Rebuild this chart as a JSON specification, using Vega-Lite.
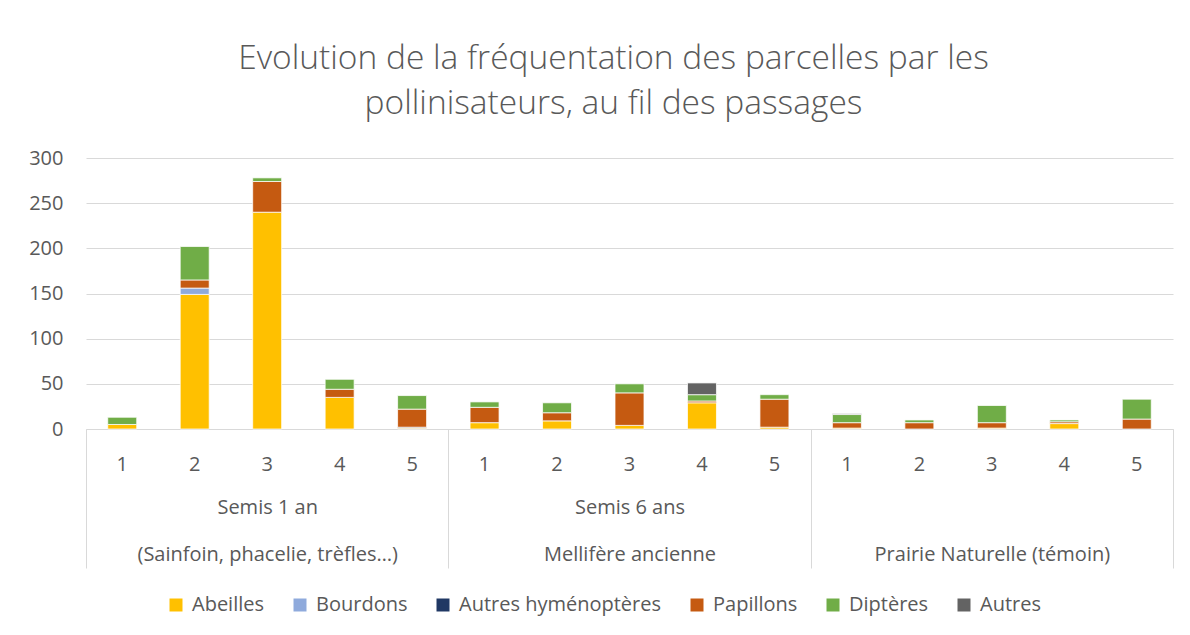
{
  "$schema": "https://vega.github.io/schema/vega-lite/v6.json",
  "width": 1087,
  "height": 271,
  "autosize": {"type": "none"},
  "padding": {"left": 86, "top": 158, "right": 17, "bottom": 206},
  "background": "white",
  "config": {"view": {"stroke": null}, "font": "Open Sans"},
  "title": {
    "text": ["Evolution de la fréquentation des parcelles par les", "pollinisateurs, au fil des passages"],
    "fontSize": 33.5,
    "fontWeight": 300,
    "color": "#595959",
    "anchor": "middle",
    "frame": "group",
    "offset": 27,
    "dx": -16,
    "lineHeight": 45
  },
  "resolve": {"scale": {"x": "independent"}, "axis": {"x": "independent"}},
  "layer": [
    {
      "data": {
        "values": [
          {"k": "A1", "s": "Abeilles", "v": 5},
          {"k": "A1", "s": "Diptères", "v": 8},
          {"k": "A2", "s": "Abeilles", "v": 149},
          {"k": "A2", "s": "Bourdons", "v": 7},
          {"k": "A2", "s": "Papillons", "v": 9},
          {"k": "A2", "s": "Diptères", "v": 37},
          {"k": "A3", "s": "Abeilles", "v": 240},
          {"k": "A3", "s": "Papillons", "v": 34},
          {"k": "A3", "s": "Diptères", "v": 4},
          {"k": "A4", "s": "Abeilles", "v": 35},
          {"k": "A4", "s": "Papillons", "v": 9},
          {"k": "A4", "s": "Diptères", "v": 11},
          {"k": "A5", "s": "Abeilles", "v": 1},
          {"k": "A5", "s": "Autres hyménoptères", "v": 1},
          {"k": "A5", "s": "Papillons", "v": 20},
          {"k": "A5", "s": "Diptères", "v": 15},
          {"k": "B1", "s": "Abeilles", "v": 7},
          {"k": "B1", "s": "Papillons", "v": 17},
          {"k": "B1", "s": "Diptères", "v": 6},
          {"k": "B2", "s": "Abeilles", "v": 9},
          {"k": "B2", "s": "Papillons", "v": 9},
          {"k": "B2", "s": "Diptères", "v": 11},
          {"k": "B3", "s": "Abeilles", "v": 4},
          {"k": "B3", "s": "Papillons", "v": 36},
          {"k": "B3", "s": "Diptères", "v": 10},
          {"k": "B4", "s": "Abeilles", "v": 29},
          {"k": "B4", "s": "Papillons", "v": 2},
          {"k": "B4", "s": "Diptères", "v": 7},
          {"k": "B4", "s": "Autres", "v": 13},
          {"k": "B5", "s": "Abeilles", "v": 2},
          {"k": "B5", "s": "Papillons", "v": 31},
          {"k": "B5", "s": "Diptères", "v": 5},
          {"k": "C1", "s": "Abeilles", "v": 1},
          {"k": "C1", "s": "Papillons", "v": 6},
          {"k": "C1", "s": "Diptères", "v": 9},
          {"k": "C1", "s": "Autres", "v": 1},
          {"k": "C2", "s": "Papillons", "v": 7},
          {"k": "C2", "s": "Diptères", "v": 3},
          {"k": "C3", "s": "Abeilles", "v": 1},
          {"k": "C3", "s": "Papillons", "v": 6},
          {"k": "C3", "s": "Diptères", "v": 19},
          {"k": "C4", "s": "Abeilles", "v": 6},
          {"k": "C4", "s": "Papillons", "v": 2},
          {"k": "C4", "s": "Diptères", "v": 2},
          {"k": "C5", "s": "Papillons", "v": 11},
          {"k": "C5", "s": "Diptères", "v": 22}
        ]
      },
      "transform": [
        {"calculate": "indexof(['Abeilles','Bourdons','Autres hyménoptères','Papillons','Diptères','Autres'], datum.s)", "as": "o"}
      ],
      "mark": {"type": "bar", "stroke": "white", "strokeWidth": 0.75},
      "encoding": {
        "x": {
          "field": "k",
          "type": "nominal",
          "scale": {"paddingInner": 0.6, "paddingOuter": 0.3},
          "axis": {
            "orient": "bottom",
            "title": null,
            "labelExpr": "substring(datum.value, 1)",
            "ticks": false,
            "domainColor": "#D9D9D9",
            "labelAngle": 0,
            "labelFontSize": 20,
            "labelColor": "#595959",
            "labelPadding": 25
          }
        },
        "y": {
          "field": "v",
          "type": "quantitative",
          "stack": "zero",
          "scale": {"domain": [0, 300], "nice": false},
          "axis": {
            "values": [0, 50, 100, 150, 200, 250, 300],
            "title": null,
            "ticks": false,
            "domain": false,
            "gridColor": "#D9D9D9",
            "labelFontSize": 20,
            "labelColor": "#595959",
            "labelPadding": 23
          }
        },
        "color": {
          "field": "s",
          "type": "nominal",
          "scale": {
            "domain": ["Abeilles", "Bourdons", "Autres hyménoptères", "Papillons", "Diptères", "Autres"],
            "range": ["#FFC000", "#8FAADC", "#203864", "#C55A11", "#70AD47", "#636363"]
          },
          "legend": {
            "orient": "none",
            "legendX": 80,
            "legendY": 437,
            "direction": "horizontal",
            "title": null,
            "symbolType": "square",
            "symbolSize": 169,
            "symbolStrokeWidth": 0,
            "labelFontSize": 20,
            "labelColor": "#595959",
            "labelOffset": 6,
            "labelLimit": 0,
            "columnPadding": 25,
            "padding": 0
          }
        },
        "order": {"field": "o", "type": "quantitative"}
      }
    },
    {
      "data": {
        "values": [
          {"g": "Semis 1 an|(Sainfoin, phacelie, trèfles…)"},
          {"g": "Semis 6 ans|Mellifère ancienne"},
          {"g": " |Prairie Naturelle (témoin)"}
        ]
      },
      "mark": {"type": "point", "opacity": 0},
      "encoding": {
        "x": {
          "field": "g",
          "type": "nominal",
          "sort": null,
          "scale": {"padding": 0},
          "axis": {
            "orient": "bottom",
            "title": null,
            "labelExpr": "isString(datum.value) ? split(datum.value, '|') : ''",
            "labelAngle": 0,
            "labelLimit": 0,
            "tickBand": "extent",
            "tickSize": 139,
            "tickColor": "#D9D9D9",
            "domain": false,
            "grid": false,
            "labelPadding": -71,
            "labelFontSize": 20,
            "labelColor": "#595959",
            "labelLineHeight": 47
          }
        }
      }
    }
  ]
}
